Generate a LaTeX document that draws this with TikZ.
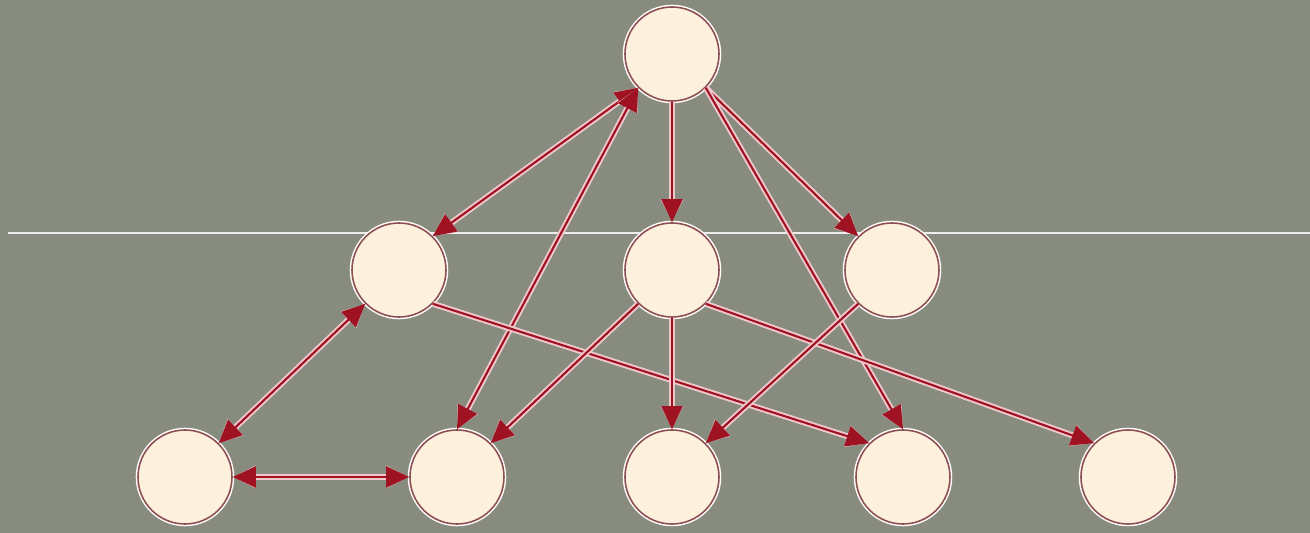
\documentclass[tikz,border=0pt]{standalone}
\usetikzlibrary{positioning,arrows.meta}

\definecolor{slate}{RGB}{135,140,127}
\definecolor{cream}{RGB}{253,241,222}
\definecolor{rim}{RGB}{140,80,82}
\definecolor{wine}{RGB}{158,18,34}
\definecolor{halo}{RGB}{240,200,204}

\begin{document}
\begin{tikzpicture}[thick, on grid,
  >={Triangle[length=0.46cm,width=0.42cm]},
  state/.style={circle, minimum size=1.88cm, fill=cream, draw=rim, line width=0.9pt,
    preaction={draw=white!92!pink, line width=2.6pt}},
  link/.style={draw=wine, line width=1.2pt,
    preaction={draw=halo, line width=3.4pt}}]
 % page and divider
 \useasboundingbox[fill=slate] (-13.44,1.08) rectangle (12.76,-9.58);
 \draw[white!85!slate, line width=1.6pt] (-13.28,-3.58) -- (12.76,-3.58);
 % vertices
 \node[state] (top) at (0,0) {};
 \node[state, below left=4.32cm and 5.46cm of top] (m1) {};
 \node[state, below=4.32cm of top] (m2) {};
 \node[state, below right=4.32cm and 4.4cm of top] (m3) {};
 \node[state, below=4.14cm of m2] (b3) {};
 \node[state, left=4.3cm of b3] (b2) {};
 \node[state, left=5.44cm of b2] (b1) {};
 \node[state, right=4.62cm of b3] (b4) {};
 \node[state, right=4.5cm of b4] (b5) {};
 % edges
 \draw[link, <->] (top.south west) -- (m1.north east);
 \draw[link, <->] (top.south west) -- (b2.north);
 \draw[link, ->] (top) -- (m2);
 \draw[link, ->] (top.south east) -- (m3.north west);
 \draw[link, ->] (top.south east) -- (b4.north);
 \draw[link, <->] (m1.south west) -- (b1.north east);
 \draw[link, ->] (m1.south east) -- (b4.north west);
 \draw[link, ->] (m2.south west) -- (b2.north east);
 \draw[link, ->] (m2) -- (b3);
 \draw[link, ->] (m2.south east) -- (b5.north west);
 \draw[link, ->] (m3.south west) -- (b3.north east);
 \draw[link, <->] (b1) -- (b2);
\end{tikzpicture}
\end{document}
